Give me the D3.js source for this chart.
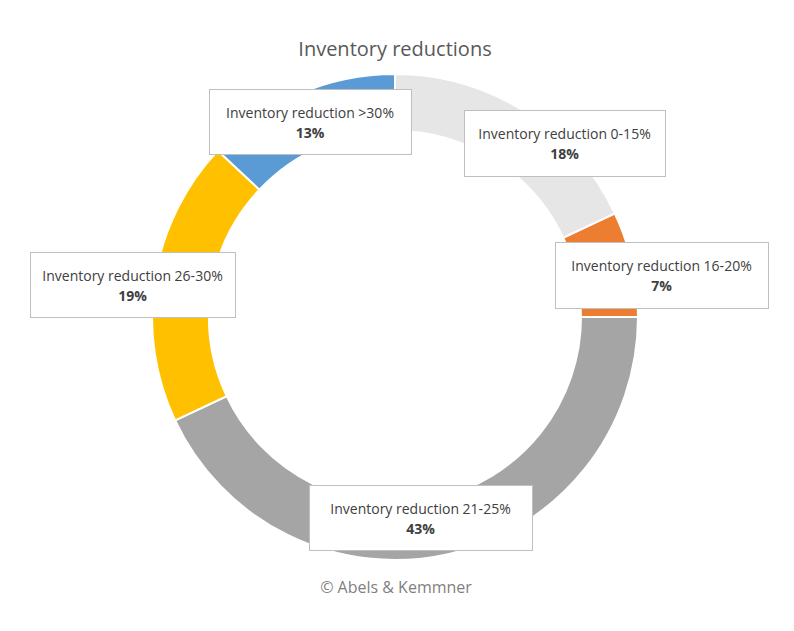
<!DOCTYPE html>
<html><head><meta charset="utf-8">
<script src="https://cdn.jsdelivr.net/npm/d3@7"></script>
<style>body{margin:0;background:#fff}</style></head>
<body><svg id="c" width="794" height="631"></svg>
<script>
const categories = ["Inventory reduction 0-15%","Inventory reduction 16-20%","Inventory reduction 21-25%","Inventory reduction 26-30%","Inventory reduction >30%"];
const values = [18,7,43,19,13];
const colors = ["#e7e6e6","#ed7d31","#a5a5a5","#ffc000","#5b9bd5"];
// label box layout [x, y, w, h]
const boxes = [[464,110,201,66],[555,242,213,66],[309,485,223,65],[30,252,205,65],[209,89,202,65]];

const svg = d3.select("#c");
const font = "'Open Sans', 'Noto Sans', sans-serif";
svg.append("text").attr("x",395).attr("y",56).attr("text-anchor","middle")
  .attr("font-family",font).attr("font-size",20).attr("fill","#595959").text("Inventory  reductions");

const cx=395, cy=317;
const pie = d3.pie().sort(null).value(d=>d);
const arc = d3.arc().innerRadius(186).outerRadius(243);
const g = svg.append("g").attr("transform",`translate(${cx},${cy})`);
g.selectAll("path").data(pie(values)).join("path")
  .attr("d",arc).attr("fill",(d,i)=>colors[i]).attr("stroke","#fff").attr("stroke-width",2);

const fmt = d3.format(".0%");
const total = d3.sum(values);
boxes.forEach((b,i)=>{
  const lg = svg.append("g");
  lg.append("rect").attr("x",b[0]+0.5).attr("y",b[1]+0.5).attr("width",b[2]).attr("height",b[3])
    .attr("fill","#fff").attr("stroke","#bfbfbf");
  const mx=b[0]+b[2]/2;
  lg.append("text").attr("x",mx).attr("y",b[1]+29).attr("text-anchor","middle")
    .attr("font-family",font).attr("font-size",14).attr("fill","#404040").text(categories[i]);
  lg.append("text").attr("x",mx).attr("y",b[1]+49).attr("text-anchor","middle")
    .attr("font-family",font).attr("font-size",14).attr("font-weight","bold").attr("fill","#404040")
    .text(fmt(values[i]/total));
});
svg.append("text").attr("x",396).attr("y",593).attr("text-anchor","middle")
  .attr("font-family",font).attr("font-size",16).attr("fill","#7f7f7f").text("© Abels & Kemmner");
</script></body></html>
